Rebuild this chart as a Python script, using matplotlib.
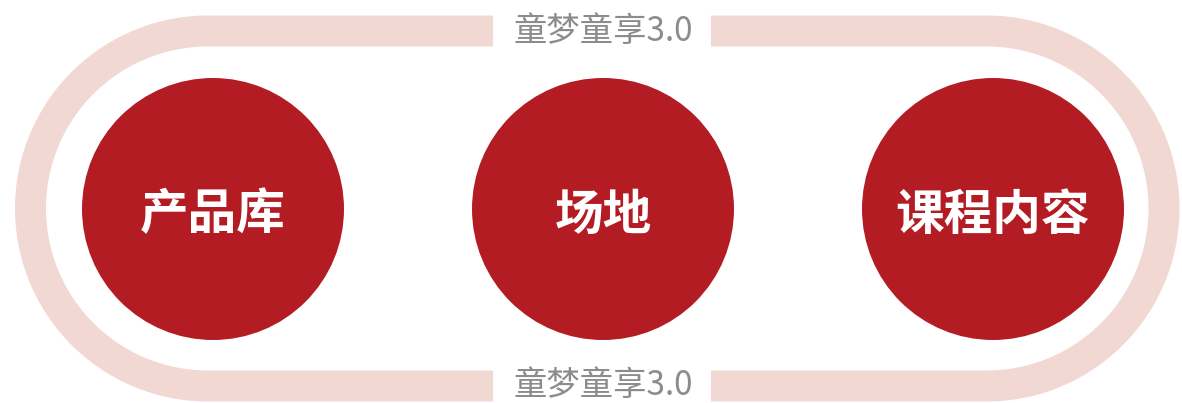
import matplotlib
matplotlib.use("Agg")
import numpy as np
import matplotlib.pyplot as plt
from matplotlib.patches import Circle, Rectangle, Polygon

plt.rcParams['font.family'] = ['Noto Sans CJK SC', 'DejaVu Sans']

categories = ["产品库", "场地", "课程内容"]
ring_label = "童梦童享3.0"

W, H = 1182, 403
fig = plt.figure(figsize=(W / 100, H / 100), dpi=100)
ax = fig.add_axes([0, 0, 1, 1])
ax.set_xlim(0, W)
ax.set_ylim(H, 0)
ax.set_aspect('equal')
ax.axis('off')

pink = '#F2D8D3'
red = '#B41C24'
gray = '#8C8C8C'

# stadium ring (full semicircle ends)
top, bottom = 31, 386
left, right = 30.5, 1164
r = (bottom - top) / 2
cyr = (top + bottom) / 2
lc, rc = left + r, right - r
t = np.linspace(-np.pi / 2, np.pi / 2, 200)
right_arc = np.column_stack([rc + r * np.cos(t), cyr + r * np.sin(t)])
t2 = np.linspace(np.pi / 2, 3 * np.pi / 2, 200)
left_arc = np.column_stack([lc + r * np.cos(t2), cyr + r * np.sin(t2)])
pts = np.vstack([right_arc, left_arc])
ring = Polygon(pts, closed=True, fill=False, ec=pink, lw=31 * 0.72)
ax.add_patch(ring)

# labels on the ring with white gaps
cx_mid = 603
for y in (top, bottom):
    ax.add_patch(Rectangle((493, y - 22), 218, 44, fc='white', ec='none', zorder=3))
    ax.text(cx_mid, y, ring_label, ha='center', va='center', color=gray,
            fontsize=24, zorder=4)

# circles
centers_x = [213, 603, 993]
cy = 209
for x, name in zip(centers_x, categories):
    ax.add_patch(Circle((x, cy), 131, fc=red, ec='none', zorder=5))
    ax.text(x, cy + 6, name, ha='center', va='center', color='white',
            fontsize=35, fontweight='bold', zorder=6)

fig.savefig('out.png', dpi=100, facecolor='white')
